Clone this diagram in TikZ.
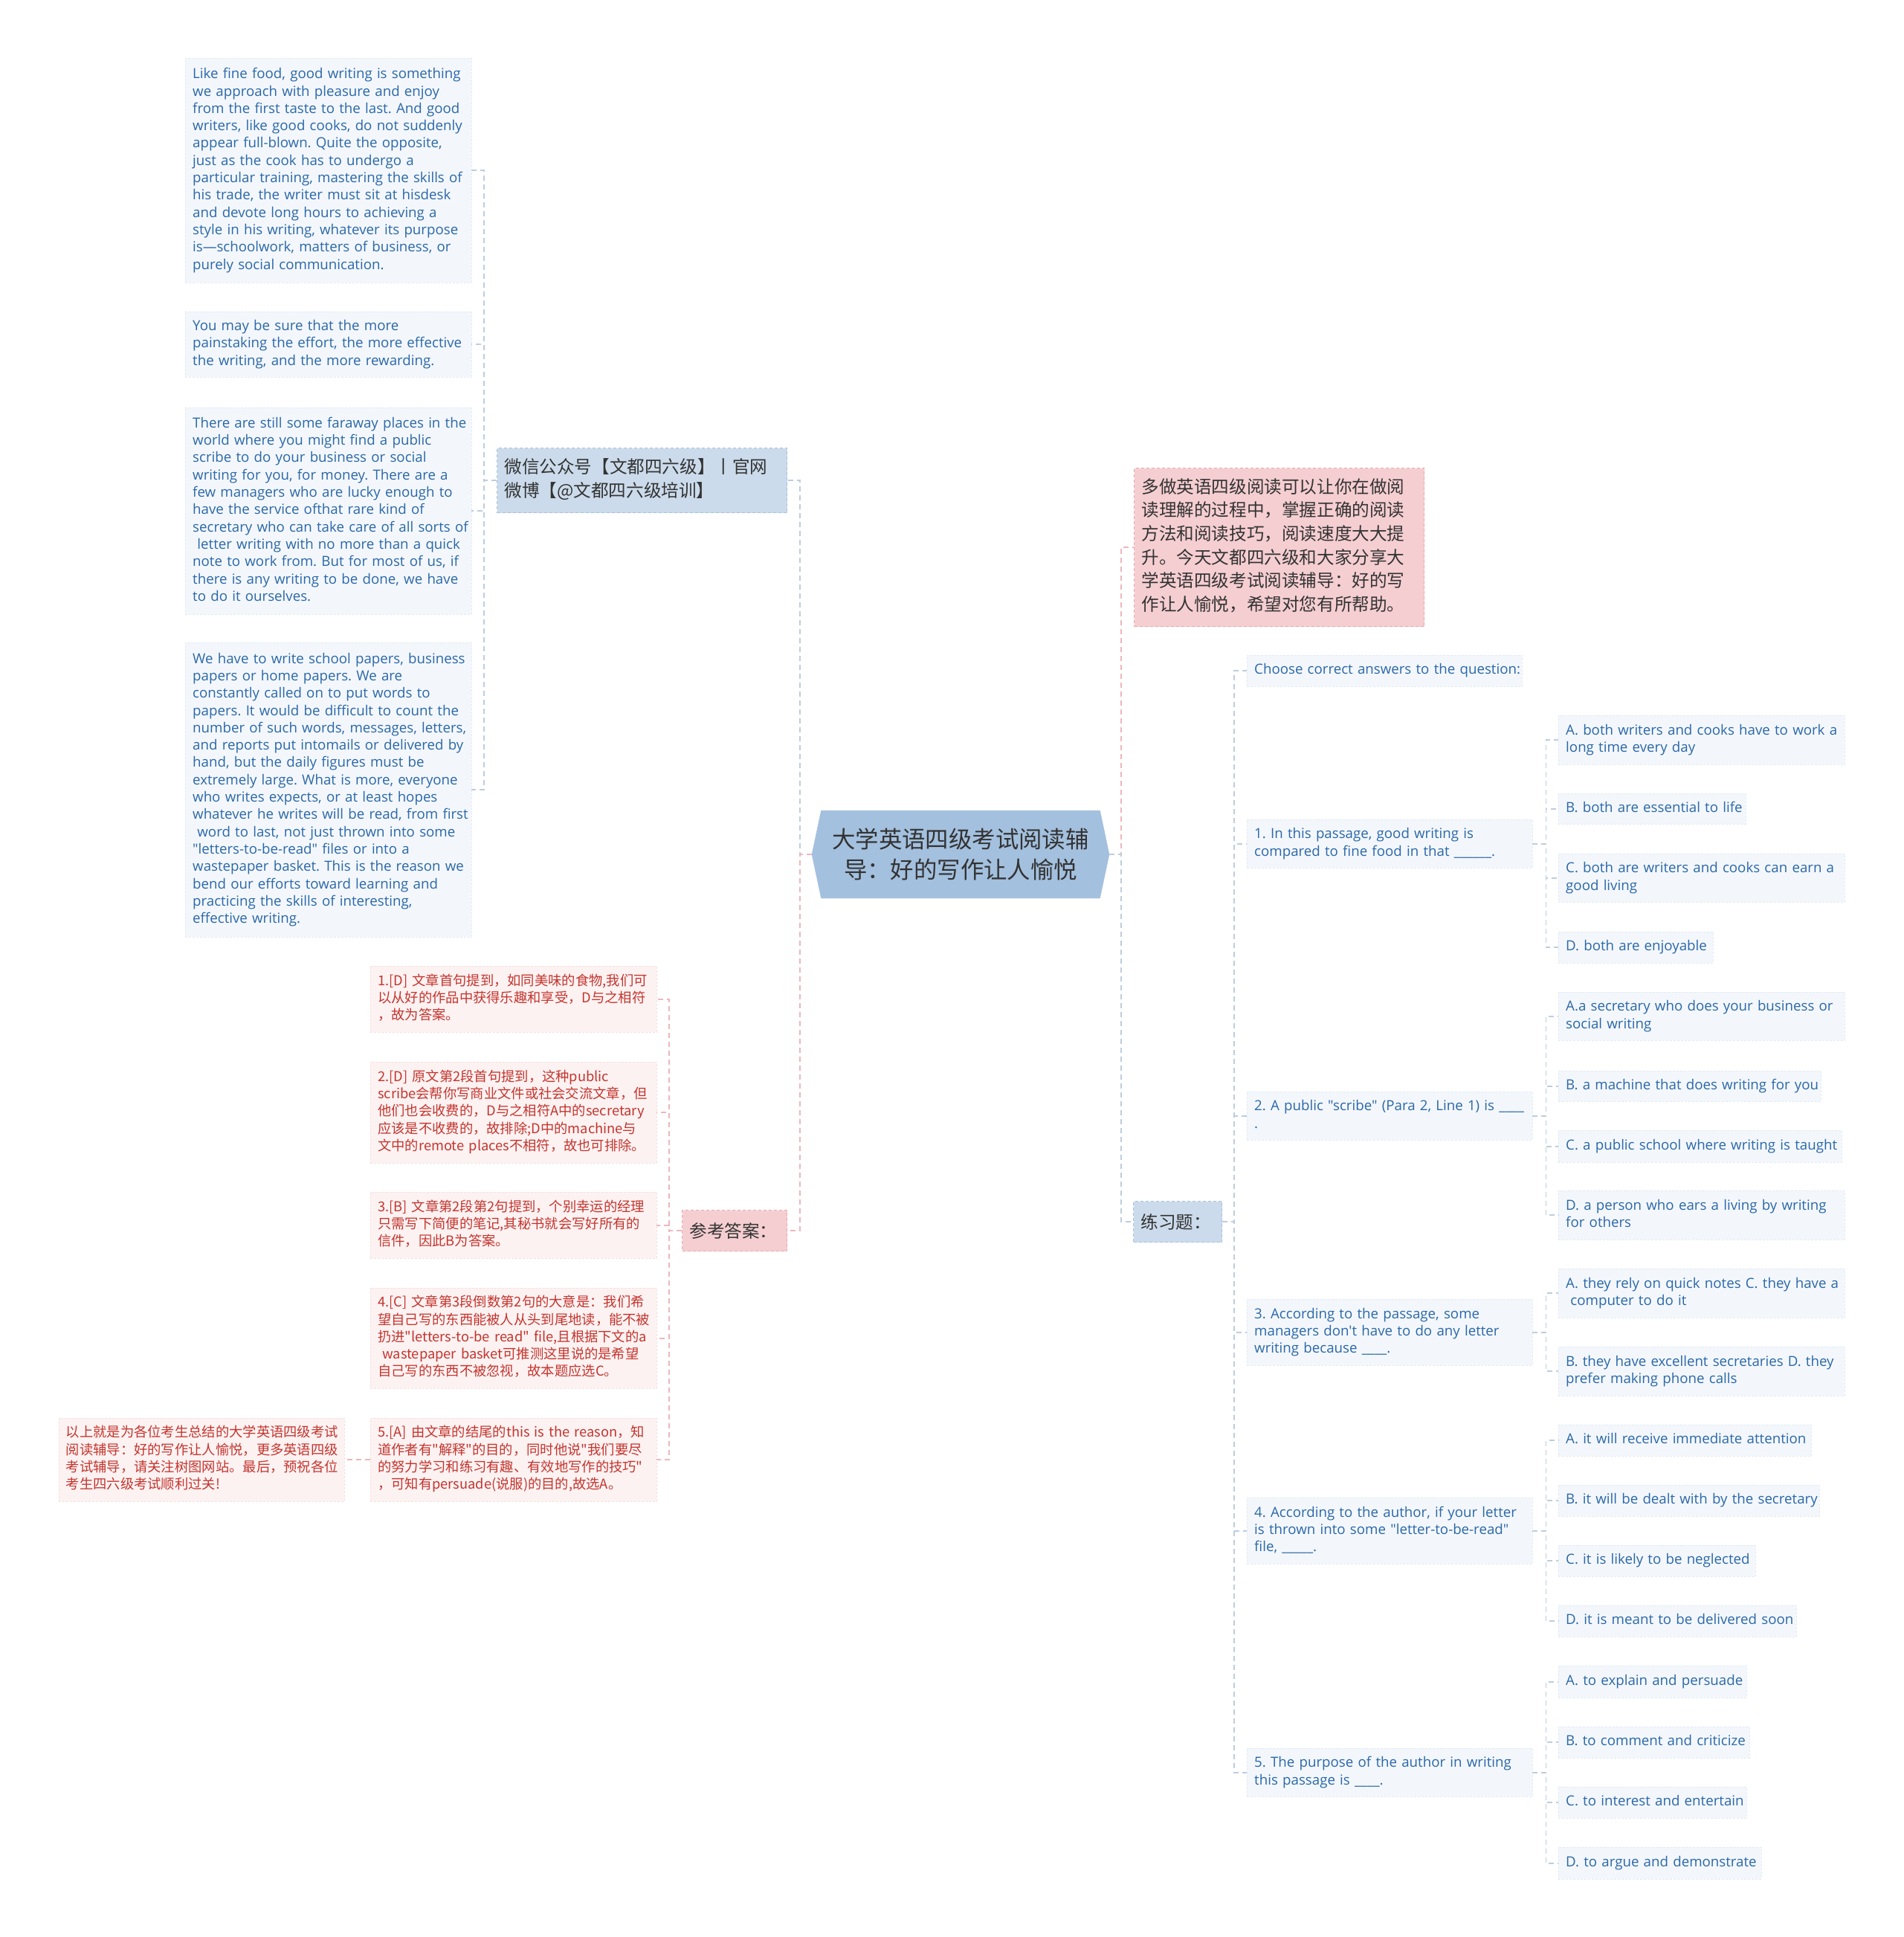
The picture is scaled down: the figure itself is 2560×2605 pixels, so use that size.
\documentclass[tikz,border=0pt]{standalone}
\usepackage{fontspec}
\setmainfont{Open Sans}
\newfontfamily\latinfont{Open Sans}
\newfontfamily\cjk{Noto Sans CJK SC}
\usepackage{tikz}
\usetikzlibrary{shapes.symbols,positioning}
\frenchspacing

\definecolor{txtblue}{HTML}{2B68A8}
\definecolor{txtred}{HTML}{C3352E}
\definecolor{txtdark}{HTML}{333333}
\definecolor{fillblue}{HTML}{F3F7FC}
\definecolor{edgeblue}{HTML}{E2EAF3}
\definecolor{fillred}{HTML}{FDF2F2}
\definecolor{edgered}{HTML}{F5E0E0}
\definecolor{headblue}{HTML}{CBDBEB}
\definecolor{headblueedge}{HTML}{A9C1D9}
\definecolor{headpink}{HTML}{F5CED1}
\definecolor{headpinkedge}{HTML}{E8A8AE}
\definecolor{rootblue}{HTML}{A3C0DE}
\definecolor{lineblue}{HTML}{BCCDDF}
\definecolor{linepink}{HTML}{EDB7BB}

% lines stay as typed, no extra breaks
\newcommand\tl[1]{\begin{tabular}{@{}l@{}}#1\end{tabular}}

\tikzset{
  sz/.code 2 args={\pgfmathsetmacro\boxw{#1-20}%
    \tikzset{text width/.expanded=\boxw pt,minimum height=#2}},
  bluebox/.style={anchor=north west,fill=fillblue,draw=edgeblue,dash pattern=on 3pt off 2pt,
    text=txtblue,align=left,inner xsep=10pt,inner ysep=4pt,
    font=\latinfont\fontsize{18.7}{23.3}\selectfont},
  redbox/.style={anchor=north west,fill=fillred,draw=edgered,dash pattern=on 3pt off 2pt,
    text=txtred,align=left,inner xsep=10pt,inner ysep=4pt,
    font=\cjk\fontsize{18.3}{23.3}\selectfont},
  bluehead/.style={anchor=north west,fill=headblue,draw=headblueedge,dash pattern=on 4pt off 3pt,
    line width=1pt,text=txtdark,align=left,inner xsep=10pt,
    font=\cjk\fontsize{23.6}{31.6}\selectfont},
  pinkhead/.style={bluehead,fill=headpink,draw=headpinkedge},
  rootnode/.style={signal,signal to=west and east,signal pointer angle=156,
    fill=rootblue,draw=rootblue,text=txtdark,align=center,
    minimum width=400pt,minimum height=118pt,
    font=\cjk\fontsize{31.4}{41.5}\selectfont},
  blueline/.style={draw=lineblue,line width=1.8pt,dash pattern=on 7pt off 5pt},
  pinkline/.style={draw=linepink,line width=1.8pt,dash pattern=on 7pt off 5pt}
}

\begin{document}
\begin{tikzpicture}[x=1pt,y=-1pt]
\fill[white] (0,0) rectangle (2560,2605);
\useasboundingbox (0,0) rectangle (2560,2605);

\node[rootnode] (root) at (1292,1149) {大学英语四级考试阅读辅\\导：好的写作让人愉悦};

% left branch
\node[bluehead,sz={390}{87}] (wx) at (668,602) {\tl{微信公众号【文都四六级】丨官网\\微博【@文都四六级培训】}};

\node[bluebox,sz={385}{302}] (b1) at (249,78) {\tl{Like fine food, good writing is something\\
we approach with pleasure and enjoy\\
from the first taste to the last. And good\\
writers, like good cooks, do not suddenly\\
appear full-blown. Quite the opposite,\\
just as the cook has to undergo a\\
particular training, mastering the skills of\\
his trade, the writer must sit at hisdesk\\
and devote long hours to achieving a\\
style in his writing, whatever its purpose\\
is—schoolwork, matters of business, or\\
purely social communication.}};
\node[bluebox,sz={385}{88}] (b2) at (249,419) {\tl{You may be sure that the more\\
painstaking the effort, the more effective\\
the writing, and the more rewarding.}};
\node[bluebox,sz={385}{278}] (b3) at (249,548) {\tl{There are still some faraway places in the\\
world where you might find a public\\
scribe to do your business or social\\
writing for you, for money. There are a\\
few managers who are lucky enough to\\
have the service ofthat rare kind of\\
secretary who can take care of all sorts of\\
\ letter writing with no more than a quick\\
note to work from. But for most of us, if\\
there is any writing to be done, we have\\
to do it ourselves.}};
\node[bluebox,sz={385}{396}] (b4) at (249,864) {\tl{We have to write school papers, business\\
papers or home papers. We are\\
constantly called on to put words to\\
papers. It would be difficult to count the\\
number of such words, messages, letters,\\
and reports put intomails or delivered by\\
hand, but the daily figures must be\\
extremely large. What is more, everyone\\
who writes expects, or at least hopes\\
whatever he writes will be read, from first\\
\ word to last, not just thrown into some\\
"letters-to-be-read" files or into a\\
wastepaper basket. This is the reason we\\
bend our efforts toward learning and\\
practicing the skills of interesting,\\
effective writing.}};

\node[pinkhead,sz={141}{55}] (ans) at (917,1627) {参考答案：};

\node[redbox,sz={385}{89}] (r1) at (498,1299) {\tl{1.[D] 文章首句提到，如同美味的食物,我们可\\
以从好的作品中获得乐趣和享受，D与之相符\\
，故为答案。}};
\node[redbox,sz={385}{136}] (r2) at (498,1428) {\tl{2.[D] 原文第2段首句提到，这种public\\
scribe会帮你写商业文件或社会交流文章，但\\
他们也会收费的，D与之相符A中的secretary\\
应该是不收费的，故排除;D中的machine与\\
文中的remote places不相符，故也可排除。}};
\node[redbox,sz={385}{89}] (r3) at (498,1603) {\tl{3.[B] 文章第2段第2句提到，个别幸运的经理\\
只需写下简便的笔记,其秘书就会写好所有的\\
信件，因此B为答案。}};
\node[redbox,sz={385}{135}] (r4) at (498,1732) {\tl{4.[C] 文章第3段倒数第2句的大意是：我们希\\
望自己写的东西能被人从头到尾地读，能不被\\
扔进"letters-to-be read" file,且根据下文的a\\
\ wastepaper basket可推测这里说的是希望\\
自己写的东西不被忽视，故本题应选C。}};
\node[redbox,sz={385}{112}] (r5) at (498,1907) {\tl{5.[A] 由文章的结尾的this is the reason，知\\
道作者有"解释"的目的，同时他说"我们要尽\\
的努力学习和练习有趣、有效地写作的技巧"\\
，可知有persuade(说服)的目的,故选A。}};
\node[redbox,sz={384}{112},left=35pt of r5] (fin) {\tl{以上就是为各位考生总结的大学英语四级考试\\
阅读辅导：好的写作让人愉悦，更多英语四级\\
考试辅导，请关注树图网站。最后，预祝各位\\
考生四六级考试顺利过关!}};

% right branch
\node[pinkhead,sz={390}{213}] (intro) at (1525,629) {\tl{多做英语四级阅读可以让你在做阅\\
读理解的过程中，掌握正确的阅读\\
方法和阅读技巧，阅读速度大大提\\
升。今天文都四六级和大家分享大\\
学英语四级考试阅读辅导：好的写\\
作让人愉悦，希望对您有所帮助。}};

\node[bluehead,sz={119}{55}] (lxt) at (1524,1615) {练习题：};

\node[bluebox,sz={370}{42}] (q0) at (1677,881) {\tl{Choose correct answers to the question:}};
\node[bluebox,sz={384}{65}] (q1) at (1677,1102) {\tl{1. In this passage, good writing is\\compared to fine food in that \_\_\_\_\_\_.}};
\node[bluebox,sz={384}{65}] (q2) at (1677,1468) {\tl{2. A public "scribe" (Para 2, Line 1) is \_\_\_\_\\.}};
\node[bluebox,sz={384}{89}] (q3) at (1677,1747) {\tl{3. According to the passage, some\\managers don't have to do any letter\\writing because \_\_\_\_.}};
\node[bluebox,sz={384}{89}] (q4) at (1677,2014) {\tl{4. According to the author, if your letter\\is thrown into some "letter-to-be-read"\\file, \_\_\_\_\_.}};
\node[bluebox,sz={384}{65}] (q5) at (1677,2351) {\tl{5. The purpose of the author in writing\\this passage is \_\_\_\_.}};

\node[bluebox,sz={385}{66}] (o1a) at (2096,962) {\tl{A. both writers and cooks have to work a\\long time every day}};
\node[bluebox,sz={252}{41}] (o1b) at (2096,1067) {\tl{B. both are essential to life}};
\node[bluebox,sz={385}{65}] (o1c) at (2096,1148) {\tl{C. both are writers and cooks can earn a\\good living}};
\node[bluebox,sz={208}{42}] (o1d) at (2096,1253) {\tl{D. both are enjoyable}};

\node[bluebox,sz={385}{65}] (o2a) at (2096,1334) {\tl{A.a secretary who does your business or\\social writing}};
\node[bluebox,sz={353}{41}] (o2b) at (2096,1440) {\tl{B. a machine that does writing for you}};
\node[bluebox,sz={381}{43}] (o2c) at (2096,1520) {\tl{C. a public school where writing is taught}};
\node[bluebox,sz={385}{66}] (o2d) at (2096,1601) {\tl{D. a person who ears a living by writing\\for others}};

\node[bluebox,sz={385}{66}] (o3a) at (2096,1706) {\tl{A. they rely on quick notes C. they have a\\\ computer to do it}};
\node[bluebox,sz={385}{66}] (o3b) at (2096,1811) {\tl{B. they have excellent secretaries D. they\\prefer making phone calls}};

\node[bluebox,sz={340}{42}] (o4a) at (2096,1916) {\tl{A. it will receive immediate attention}};
\node[bluebox,sz={351}{42}] (o4b) at (2096,1997) {\tl{B. it will be dealt with by the secretary}};
\node[bluebox,sz={265}{42}] (o4c) at (2096,2078) {\tl{C. it is likely to be neglected}};
\node[bluebox,sz={320}{42}] (o4d) at (2096,2159) {\tl{D. it is meant to be delivered soon}};

\node[bluebox,sz={253}{43}] (o5a) at (2096,2240) {\tl{A. to explain and persuade}};
\node[bluebox,sz={257}{42}] (o5b) at (2096,2322) {\tl{B. to comment and criticize}};
\node[bluebox,sz={253}{42}] (o5c) at (2096,2403) {\tl{C. to interest and entertain}};
\node[bluebox,sz={273}{43}] (o5d) at (2096,2484) {\tl{D. to argue and demonstrate}};

% connectors
\draw[blueline] (root.west) -- ++(-16,0) |- (wx.east);
\draw[pinkline] (root.west) -- ++(-16,0) |- (ans.east);
\draw[pinkline] (root.east) -- ++(16,0) |- (intro.west);
\draw[blueline] (root.east) -- ++(16,0) |- (lxt.west);

\foreach \c in {b1,b2,b3,b4}
  \draw[blueline] (wx.west) -- ++(-17,0) |- (\c.east);
\foreach \c in {r1,r2,r3,r4,r5}
  \draw[pinkline] (ans.west) -- ++(-17,0) |- (\c.east);
\draw[pinkline] (r5.west) -- (fin.east);

\foreach \c in {q0,q1,q2,q3,q4,q5}
  \draw[blueline] (lxt.east) -- ++(16,0) |- (\c.west);
\foreach \q/\o in {q1/o1a,q1/o1b,q1/o1c,q1/o1d,q2/o2a,q2/o2b,q2/o2c,q2/o2d,
    q3/o3a,q3/o3b,q4/o4a,q4/o4b,q4/o4c,q4/o4d,q5/o5a,q5/o5b,q5/o5c,q5/o5d}
  \draw[blueline] (\q.east) -- ++(18,0) |- (\o.west);
\end{tikzpicture}
\end{document}
